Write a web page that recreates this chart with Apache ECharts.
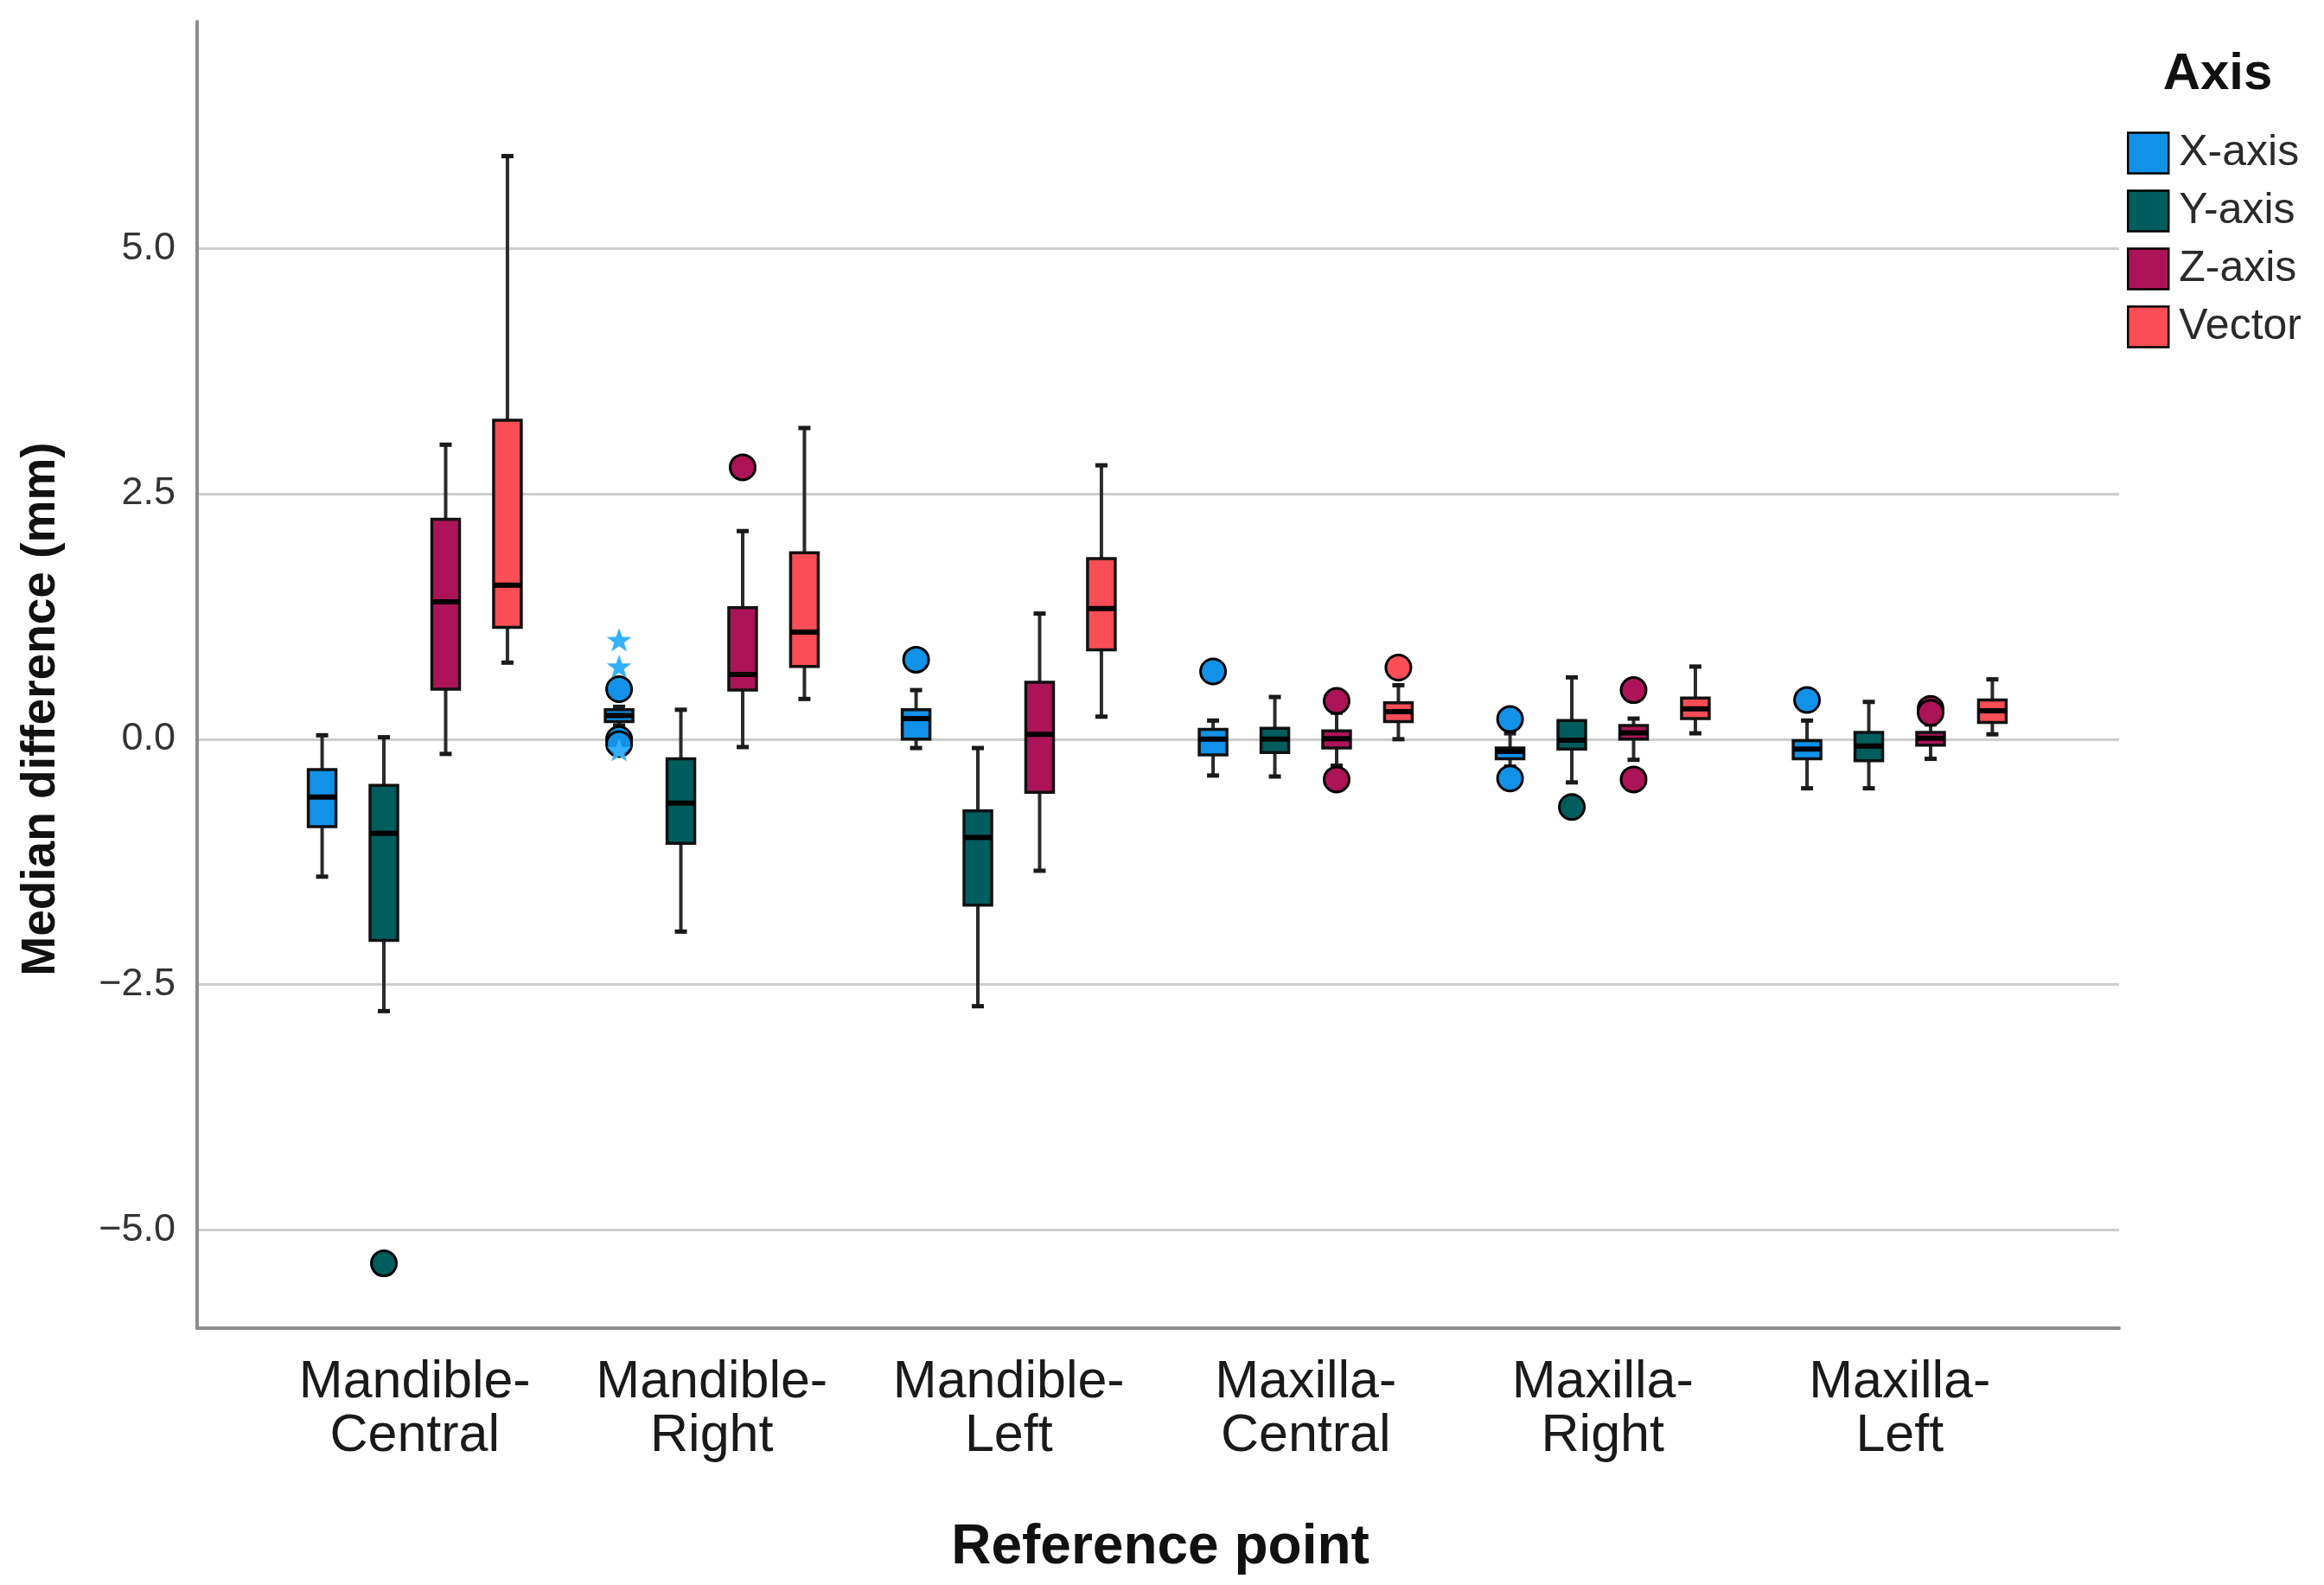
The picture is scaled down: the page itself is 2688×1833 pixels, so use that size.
<!DOCTYPE html>
<html>
<head>
<meta charset="utf-8">
<script src="https://cdn.jsdelivr.net/npm/echarts@6/dist/echarts.min.js"></script>
<style>html,body{margin:0;padding:0;background:#fff;}#chart{width:2688px;height:1833px;}</style>
</head>
<body>
<div id="chart"></div>
<script>
// ---- data ----
const categories = ['Mandible-Central','Mandible-Right','Mandible-Left','Maxilla-Central','Maxilla-Right','Maxilla-Left'];
const seriesNames = ['X-axis','Y-axis','Z-axis','Vector'];
const seriesColors = ['#1192e8','#005d5d','#ad1457','#fa4d56'];
const extremeColor = '#33b1ff';
// [min, Q1, median, Q3, max]
const xAxisBoxes = [
  [-1.40, -0.89, -0.59, -0.31, 0.04],
  [0.14, 0.18, 0.24, 0.30, 0.33],
  [-0.09, 0.00, 0.21, 0.30, 0.50],
  [-0.37, -0.16, 0.00, 0.10, 0.19],
  [-0.28, -0.20, -0.125, -0.09, 0.06],
  [-0.50, -0.20, -0.10, -0.015, 0.19]
];
const yAxisBoxes = [
  [-2.77, -2.05, -0.96, -0.47, 0.02],
  [-1.96, -1.06, -0.65, -0.20, 0.30],
  [-2.72, -1.69, -1.00, -0.73, -0.09],
  [-0.38, -0.135, 0.00, 0.11, 0.43],
  [-0.44, -0.10, -0.01, 0.19, 0.63],
  [-0.50, -0.22, -0.07, 0.07, 0.38]
];
const zAxisBoxes = [
  [-0.15, 0.51, 1.40, 2.24, 3.00],
  [-0.08, 0.50, 0.66, 1.34, 2.12],
  [-1.34, -0.54, 0.05, 0.58, 1.28],
  [-0.27, -0.09, 0.005, 0.085, 0.27],
  [-0.21, 0.00, 0.065, 0.14, 0.21],
  [-0.20, -0.06, 0.01, 0.07, 0.15]
];
const vectorBoxes = [
  [0.78, 1.14, 1.57, 3.25, 5.94],
  [0.41, 0.74, 1.09, 1.90, 3.17],
  [0.23, 0.91, 1.33, 1.84, 2.79],
  [0.00, 0.18, 0.28, 0.37, 0.55],
  [0.06, 0.21, 0.31, 0.42, 0.74],
  [0.05, 0.17, 0.29, 0.40, 0.61]
];
// outliers: [categoryIndex, value]
const xAxisOutliers = [[1,0.51],[1,0.00],[1,-0.05],[2,0.81],[3,0.69],[4,0.205],[4,-0.40],[5,0.40]];
const xAxisExtremes = [[1,1.00],[1,0.73],[1,-0.12]];
const yAxisOutliers = [[0,-5.34],[4,-0.69]];
const zAxisOutliers = [[1,2.77],[3,0.39],[3,-0.41],[4,0.50],[4,-0.41],[5,0.31],[5,0.27]];
const vectorOutliers = [[3,0.73]];
const yTickValues = [-5.0, -2.5, 0.0, 2.5, 5.0];

const allBoxes = [xAxisBoxes, yAxisBoxes, zAxisBoxes, vectorBoxes];
const allOutliers = [xAxisOutliers, yAxisOutliers, zAxisOutliers, vectorOutliers];

// ---- layout ----
const Y_MIN = -6.0, Y_MAX = 7.31;
const PLOT_TOP = 25, PLOT_BOTTOM_PX = 1536;
const PLOT_LEFT = 228, PLOT_RIGHT_PX = 2451;
const W = 2688, H = 1833;
const perUnit = (PLOT_BOTTOM_PX - PLOT_TOP) / (Y_MAX - Y_MIN);
const zeroY = PLOT_TOP + Y_MAX * perUnit;
const gridATop = zeroY - 7.5 * perUnit;
const gridABottom = H - (zeroY + 7.5 * perUnit);
const BAND_LEFT = 308, BAND_RIGHT_PX = 2369;
const OFFSET_FRAC = 0.208;
const BOX_W = 32;
const FONT = "'Liberation Sans', Arial, sans-serif";

function offsetX(api, cat, sIdx) {
  const band = api.size([1, 0])[0];
  return api.coord([cat, 0])[0] + (sIdx - 1.5) * band * OFFSET_FRAC;
}

function boxRender(sIdx) {
  return function (params, api) {
    const cat = api.value(0);
    const cx = offsetX(api, cat, sIdx);
    const y = [1,2,3,4,5].map(d => api.coord([cat, api.value(d)])[1]);
    const hw = BOX_W / 2, cap = 7;
    const color = seriesColors[sIdx];
    return {
      type: 'group',
      children: [
        {type:'line', shape:{x1:cx,y1:y[4],x2:cx,y2:y[3]}, style:{stroke:'#2b2b2b',lineWidth:4}},
        {type:'line', shape:{x1:cx,y1:y[1],x2:cx,y2:y[0]}, style:{stroke:'#2b2b2b',lineWidth:4}},
        {type:'line', shape:{x1:cx-cap,y1:y[4],x2:cx+cap,y2:y[4]}, style:{stroke:'#1a1a1a',lineWidth:5}},
        {type:'line', shape:{x1:cx-cap,y1:y[0],x2:cx+cap,y2:y[0]}, style:{stroke:'#1a1a1a',lineWidth:5}},
        {type:'rect', shape:{x:cx-hw,y:y[3],width:BOX_W,height:Math.max(y[1]-y[3],1)}, style:{fill:color,stroke:'#111',lineWidth:3.5}},
        {type:'line', shape:{x1:cx-hw,y1:y[2],x2:cx+hw,y2:y[2]}, style:{stroke:'#000',lineWidth:6}}
      ]
    };
  };
}
function outlierRender(sIdx) {
  return function (params, api) {
    const cat = api.value(0);
    const cx = offsetX(api, cat, sIdx);
    const cy = api.coord([cat, api.value(1)])[1];
    return {type:'circle', shape:{cx:cx,cy:cy,r:14.5}, style:{fill:seriesColors[sIdx],stroke:'#000',lineWidth:3}};
  };
}
function starRender(sIdx) {
  return function (params, api) {
    const cat = api.value(0);
    const cx = offsetX(api, cat, sIdx);
    const cy = api.coord([cat, api.value(1)])[1];
    const pts = [];
    for (let i = 0; i < 10; i++) {
      const r = i % 2 === 0 ? 15 : 6;
      const a = -Math.PI / 2 + i * Math.PI / 5;
      pts.push([cx + r * Math.cos(a), cy + r * Math.sin(a)]);
    }
    return {type:'polygon', shape:{points:pts}, style:{fill:extremeColor}};
  };
}

const series = [];
allBoxes.forEach((boxes, i) => {
  series.push({
    type:'custom', name:seriesNames[i], xAxisIndex:2, yAxisIndex:2, z:3,
    itemStyle:{color:seriesColors[i]},
    renderItem: boxRender(i),
    data: boxes.map((b, c) => [c].concat(b))
  });
});
allOutliers.forEach((pts, i) => {
  series.push({
    type:'custom', name:seriesNames[i], xAxisIndex:2, yAxisIndex:2, z:4,
    itemStyle:{color:seriesColors[i]},
    renderItem: outlierRender(i),
    data: pts
  });
});
series.push({
  type:'custom', name:seriesNames[0], xAxisIndex:2, yAxisIndex:2, z:4,
  itemStyle:{color:seriesColors[0]},
  renderItem: starRender(0),
  data: xAxisExtremes
});

const gridLineColors = [];
for (let v = -7.5; v <= 7.5 + 1e-9; v += 2.5) {
  gridLineColors.push(yTickValues.some(t => Math.abs(t - v) < 1e-6) ? '#cdcdcd' : 'rgba(0,0,0,0)');
}

const option = {
  backgroundColor:'#ffffff',
  animation:false,
  textStyle:{fontFamily:FONT},
  grid:[
    {left:PLOT_LEFT, right:W-PLOT_RIGHT_PX, top:gridATop, bottom:gridABottom},
    {left:PLOT_LEFT, right:W-PLOT_RIGHT_PX, top:PLOT_TOP, bottom:H-PLOT_BOTTOM_PX},
    {left:BAND_LEFT, right:W-BAND_RIGHT_PX, top:PLOT_TOP, bottom:H-PLOT_BOTTOM_PX}
  ],
  xAxis:[
    {gridIndex:0, type:'value', show:false, min:0, max:1},
    {gridIndex:1, type:'value', min:0, max:1, position:'bottom',
      axisLine:{show:true,onZero:false,lineStyle:{color:'#8c8c8c',width:4}},
      axisTick:{show:false}, axisLabel:{show:false}, splitLine:{show:false}},
    {gridIndex:2, type:'category', data:categories, axisLine:{show:false}, axisTick:{show:false},
      splitLine:{show:false},
      axisLabel:{fontSize:61, lineHeight:62, color:'#1a1a1a', margin:32, interval:0,
        formatter: v => v.replace('-', '-\n')}}
  ],
  yAxis:[
    {gridIndex:0, type:'value', min:-7.5, max:7.5, interval:2.5,
      axisLine:{show:false}, axisTick:{show:false},
      splitLine:{show:true, lineStyle:{color:gridLineColors, width:3}},
      axisLabel:{fontSize:45, color:'#333', margin:25,
        formatter: v => (Math.abs(v) > 7 ? '' : v.toFixed(1).replace('-', '\u2212'))}},
    {gridIndex:1, type:'value', min:Y_MIN, max:Y_MAX, position:'left',
      axisLine:{show:true,onZero:false,lineStyle:{color:'#8c8c8c',width:4}},
      axisTick:{show:false}, axisLabel:{show:false}, splitLine:{show:false}},
    {gridIndex:2, type:'value', min:Y_MIN, max:Y_MAX, show:false, splitLine:{show:false}}
  ],
  legend:{
    orient:'vertical', left:2460, top:152, padding:0,
    itemWidth:47, itemHeight:47, itemGap:17, icon:'rect',
    itemStyle:{borderColor:'#000', borderWidth:2.5},
    textStyle:{fontSize:50, color:'#2a2a2a', fontFamily:FONT, padding:[0,0,0,7]},
    data:seriesNames
  },
  graphic:[
    {type:'text', x:2565, y:86, style:{text:'Axis', font:'bold 60px ' + FONT, fill:'#111', align:'center', verticalAlign:'middle'}},
    {type:'text', x:1342, y:1790, style:{text:'Reference point', font:'bold 64px ' + FONT, fill:'#111', align:'center', verticalAlign:'middle'}},
    {type:'text', x:48, y:820, rotation:Math.PI/2, style:{text:'Median difference (mm)', font:'bold 55px ' + FONT, fill:'#111', align:'center', verticalAlign:'middle'}}
  ],
  series: series
};

const chart = echarts.init(document.getElementById('chart'), null, {renderer:'canvas'});
chart.setOption(option);
</script>
</body>
</html>
